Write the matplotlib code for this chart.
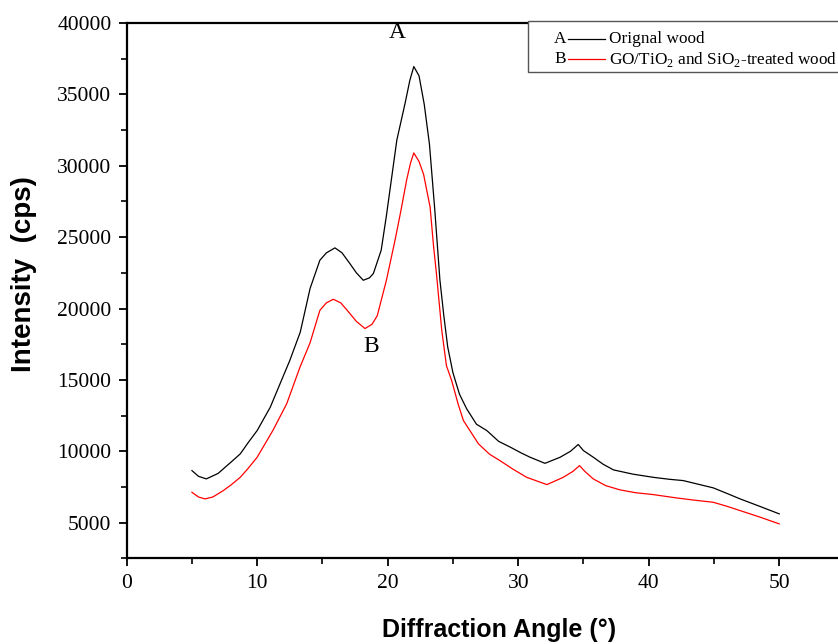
import matplotlib
matplotlib.use("Agg")
import matplotlib.pyplot as plt
from matplotlib.patches import Rectangle
from matplotlib.lines import Line2D
from matplotlib.ticker import MultipleLocator

plt.rcParams['mathtext.fontset'] = 'custom'
plt.rcParams['mathtext.rm'] = 'Liberation Serif'

# curve A: original wood
x_a = [5.0, 5.5, 6.1, 7.0, 7.4, 8.0, 8.7, 9.3, 10.0, 11.0, 11.75, 12.5, 13.3,
       14.05, 14.8, 15.3, 15.96, 16.5, 17.1, 17.6, 18.13, 18.6, 18.9, 19.5,
       19.9, 20.7, 21.33, 21.7, 22.0, 22.4, 22.8, 23.2, 23.6, 24.0, 24.3,
       24.6, 25.0, 25.5, 26.05, 26.8, 27.6, 28.5, 29.4, 30.2, 30.9, 32.05,
       33.2, 34.0, 34.6, 35.0, 35.75, 36.5, 37.3, 38.8, 40.35, 41.5, 42.65,
       44.0, 44.95, 46.0, 47.0, 48.5, 50.0]
y_a = [8650, 8250, 8070, 8450, 8770, 9250, 9820, 10600, 11460, 13090, 14730,
       16370, 18350, 21400, 23380, 23900, 24250, 23900, 23150, 22500, 21980,
       22150, 22450, 24080, 26500, 31800, 34370, 36000, 36950, 36300, 34300,
       31500, 27000, 22000, 19500, 17300, 15500, 14000, 12980, 11900, 11450,
       10700, 10290, 9900, 9590, 9160, 9580, 10000, 10480, 10050, 9590, 9100,
       8700, 8400, 8180, 8050, 7950, 7650, 7440, 7050, 6670, 6150, 5620]

# curve B: GO/TiO2 and SiO2-treated wood
x_b = [5.0, 5.5, 6.0, 6.6, 7.4, 8.0, 8.7, 9.3, 10.0, 11.2, 12.26, 13.28,
       14.05, 14.8, 15.3, 15.83, 16.4, 16.9, 17.6, 18.26, 18.8, 19.2, 19.9,
       20.56, 21.0, 21.45, 21.75, 22.0, 22.4, 22.75, 23.25, 23.5, 23.75,
       24.14, 24.5, 24.9, 25.4, 25.8, 26.95, 27.8, 28.6, 29.6, 30.65, 31.5,
       32.2, 33.45, 34.2, 34.7, 35.1, 35.75, 36.7, 37.8, 39.0, 40.35, 42.1,
       43.5, 44.95, 46.0, 47.0, 48.5, 50.0]
y_b = [7130, 6800, 6670, 6800, 7250, 7650, 8180, 8800, 9590, 11460, 13330,
       15900, 17600, 19870, 20400, 20650, 20400, 19870, 19100, 18600, 18900,
       19500, 21980, 24780, 26800, 29000, 30200, 30900, 30300, 29400, 27100,
       24500, 22300, 18500, 16000, 14960, 13300, 12160, 10530, 9800, 9350,
       8750, 8180, 7900, 7670, 8180, 8600, 9000, 8600, 8070, 7600, 7300, 7100,
       6970, 6740, 6580, 6430, 6150, 5850, 5400, 4920]

x_ticks = [0, 10, 20, 30, 40, 50]
y_ticks = [5000, 10000, 15000, 20000, 25000, 30000, 35000, 40000]

fig = plt.figure(figsize=(8.38, 6.44), dpi=100)
ax = fig.add_axes([0.1512, 0.1329, 0.8565, 0.8314])

ax.plot(x_a, y_a, color='black', linewidth=0.9)
ax.plot(x_b, y_b, color='red', linewidth=0.9)

ax.set_xlim(0, 55)
ax.set_ylim(2500, 40000)
ax.set_xticks(x_ticks)
ax.set_yticks(y_ticks)
ax.xaxis.set_minor_locator(MultipleLocator(5))
ax.yaxis.set_minor_locator(MultipleLocator(2500))

for s in ['left', 'bottom', 'top']:
    ax.spines[s].set_linewidth(1.6)
ax.spines['right'].set_visible(False)
ax.tick_params(which='major', direction='out', length=6, width=1.3,
               top=False, right=False, pad=5)
ax.tick_params(which='minor', direction='out', length=4, width=1.2,
               top=False, right=False)
for lab in ax.get_xticklabels() + ax.get_yticklabels():
    lab.set_fontfamily('Liberation Serif')
    lab.set_fontsize(15.5)

ax.set_xlabel('Diffraction Angle (°)', fontfamily='Liberation Sans',
              fontweight='bold', fontsize=18)
ax.set_ylabel('Intensity  (cps)', fontfamily='Liberation Sans',
              fontweight='bold', fontsize=20)
ax.xaxis.set_label_coords(0.519, -0.112)
ax.yaxis.set_label_coords(-0.125, 0.531)

# peak labels
ax.text(20.7, 39300, 'A', fontfamily='Liberation Serif', fontsize=17,
        ha='center', va='center')
ax.text(18.7, 17350, 'B', fontfamily='Liberation Serif', fontsize=17,
        ha='center', va='center')

# legend box drawn by hand (letter before the line sample)
ax.add_patch(Rectangle((0.559, 0.9085), 0.5, 0.095, transform=ax.transAxes,
                       facecolor='white', edgecolor='#555555', linewidth=1.0,
                       clip_on=False, zorder=5))
rows = [(0.971, 'A', 'black', 'Orignal wood'),
        (0.932, 'B', 'red', 'GO/TiO$_2$ and SiO$_2$-treated wood')]
for yy, letter, col, label in rows:
    ax.text(0.604, yy, letter, transform=ax.transAxes, fontsize=12.4,
            fontfamily='Liberation Serif', ha='center', va='center', zorder=6)
    ax.add_line(Line2D([0.615, 0.666], [yy, yy], transform=ax.transAxes,
                       color=col, linewidth=0.9, zorder=6))
    ax.text(0.672, yy, label, transform=ax.transAxes, fontsize=12.4,
            fontfamily='Liberation Serif', ha='left', va='center', zorder=6)

fig.savefig('out.png', dpi=100)
